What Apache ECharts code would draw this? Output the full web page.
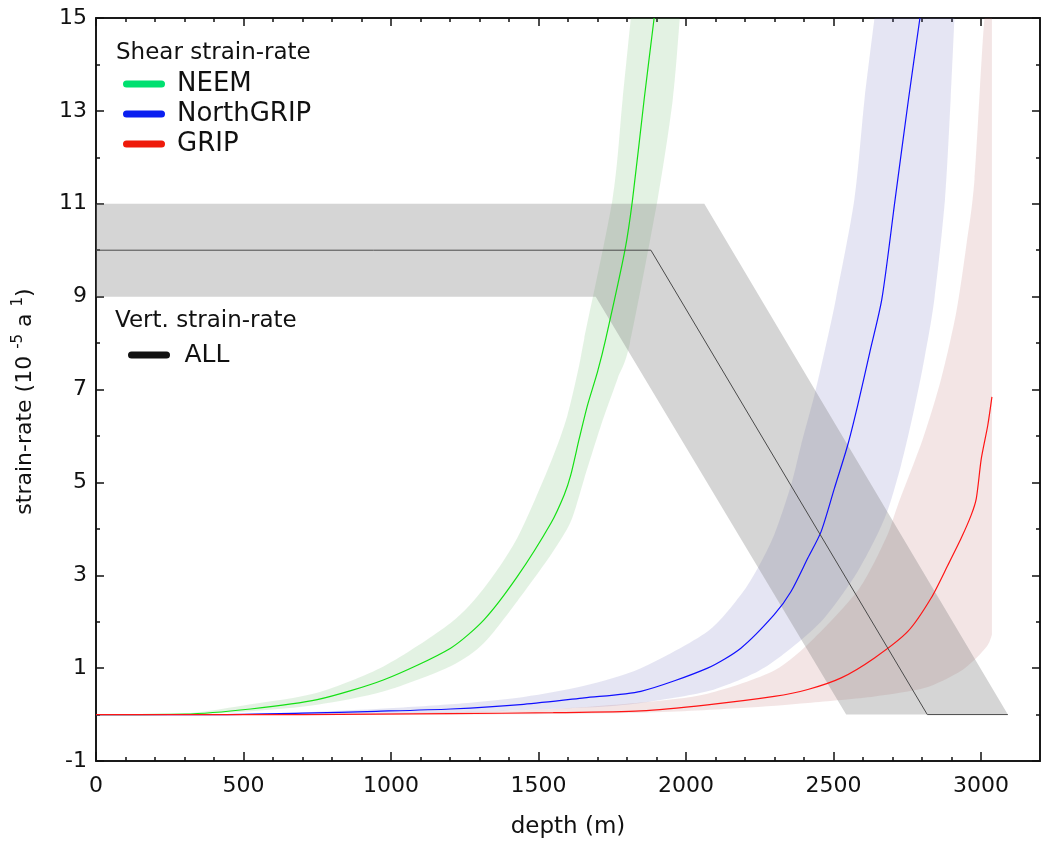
<!DOCTYPE html>
<html>
<head>
<meta charset="utf-8">
<script src="https://cdn.jsdelivr.net/npm/echarts@6/dist/echarts.min.js"></script>
<style>
html,body{margin:0;padding:0;background:#fff;}
#chart{width:1044px;height:844px;}
</style>
</head>
<body>
<div id="chart"></div>
<script>
// ---- tick values ----
const xMajor = [0, 500, 1000, 1500, 2000, 2500, 3000];
const xMinor = [100, 200, 300, 400, 600, 700, 800, 900, 1100, 1200, 1300, 1400, 1600, 1700, 1800, 1900, 2100, 2200, 2300, 2400, 2600, 2700, 2800, 2900];
const yMajor = [-1, 1, 3, 5, 7, 9, 11, 13, 15];
const yMinor = [0, 2, 4, 6, 8, 10, 12, 14];

// ---- NEEM (shear) ----
const neemX = [0, 300, 524, 750, 976, 1202, 1315, 1428, 1542, 1587, 1609, 1638, 1666, 1700, 1728, 1793, 1819, 1858, 1892];
const neemY = [0, 0.01, 0.12, 0.32, 0.75, 1.43, 2.04, 2.97, 4.12, 4.73, 5.15, 5.94, 6.66, 7.38, 8.09, 10.0, 11.1, 13.24, 15];
const neemHiX = [0, 300, 524, 750, 976, 1202, 1315, 1428, 1542, 1598, 1638, 1655, 1751, 1785, 1813];
const neemHiY = [0, 0.02, 0.22, 0.47, 1.04, 1.97, 2.72, 3.80, 5.44, 6.44, 7.52, 8.09, 11.1, 13.24, 15];
const neemLoX = [0, 300, 524, 750, 976, 1202, 1315, 1428, 1542, 1609, 1655, 1712, 1768, 1810, 1904, 1955, 1979];
const neemLoY = [0, 0, 0.07, 0.21, 0.50, 1.04, 1.54, 2.44, 3.44, 4.15, 5.08, 6.23, 7.23, 8.0, 11.1, 13.24, 15];

// ---- NorthGRIP (shear) ----
const ngripX = [0, 400, 700, 950, 1202, 1450, 1655, 1847, 2073, 2186, 2299, 2356, 2413, 2458, 2503, 2548, 2582, 2623, 2664, 2709, 2754, 2793];
const ngripY = [0, 0, 0.03, 0.07, 0.12, 0.22, 0.36, 0.50, 1.00, 1.43, 2.15, 2.65, 3.37, 3.94, 4.87, 5.80, 6.66, 7.80, 8.95, 11.1, 13.24, 15];
const ngripHiX = [0, 400, 700, 950, 1202, 1450, 1655, 1847, 2073, 2186, 2243, 2299, 2356, 2390, 2435, 2469, 2508, 2571, 2605, 2639];
const ngripHiY = [0, 0.01, 0.05, 0.12, 0.22, 0.38, 0.62, 1.00, 1.79, 2.58, 3.15, 3.87, 4.94, 5.80, 6.87, 7.80, 8.95, 11.1, 13.24, 15];
const ngripLoX = [0, 700, 1202, 1655, 1847, 2073, 2243, 2356, 2469, 2582, 2673, 2729, 2774, 2808, 2842, 2878, 2897, 2910];
const ngripLoY = [0, 0.01, 0.04, 0.15, 0.25, 0.50, 0.93, 1.43, 2.08, 3.08, 4.22, 5.37, 6.59, 7.66, 8.95, 11.1, 13.24, 15];

// ---- GRIP (shear) ----
const gripX = [0, 700, 1200, 1550, 1847, 2073, 2299, 2413, 2526, 2639, 2752, 2831, 2888, 2933, 2967, 2984, 3001, 3023, 3037];
const gripY = [0, 0, 0.02, 0.04, 0.08, 0.21, 0.39, 0.54, 0.79, 1.22, 1.79, 2.51, 3.22, 3.80, 4.30, 4.65, 5.51, 6.23, 6.84];
const gripHiX = [0, 700, 1200, 1550, 1847, 2073, 2299, 2435, 2588, 2678, 2718, 2803, 2865, 2916, 2950, 2978, 3012, 3037];
const gripHiY = [0, 0.01, 0.05, 0.12, 0.26, 0.45, 0.95, 1.65, 2.72, 3.80, 4.51, 5.94, 7.23, 8.66, 10.09, 11.52, 15, 15];
const gripLoX = [0, 1200, 1847, 2186, 2413, 2639, 2808, 2922, 2978, 3023, 3037];
const gripLoY = [0, 0, 0.04, 0.14, 0.25, 0.39, 0.57, 0.90, 1.18, 1.50, 1.72];

// ---- Vertical strain-rate (ALL) ----
const allX = [0, 1881, 2818, 3091];
const allY = [10, 10, 0, 0];
const allHiX = [0, 2062, 3091];
const allHiY = [11, 11, 0];
const allLoX = [0, 1694, 2543, 3091];
const allLoY = [9, 9, 0, 0];

const pairs = (xs, ys) => xs.map((x, i) => [x, ys[i]]);

// smooth path through screen points (Catmull-Rom -> cubic bezier)
function splinePath(pts, first) {
  let d = (first ? 'M' : 'L') + pts[0][0].toFixed(2) + ' ' + pts[0][1].toFixed(2);
  const k = 0.8 / 6;
  for (let i = 0; i < pts.length - 1; i++) {
    const p0 = pts[Math.max(i - 1, 0)], p1 = pts[i], p2 = pts[i + 1], p3 = pts[Math.min(i + 2, pts.length - 1)];
    const c1x = p1[0] + (p2[0] - p0[0]) * k, c1y = p1[1] + (p2[1] - p0[1]) * k;
    const c2x = p2[0] - (p3[0] - p1[0]) * k, c2y = p2[1] - (p3[1] - p1[1]) * k;
    d += ' C' + c1x.toFixed(2) + ' ' + c1y.toFixed(2) + ' ' + c2x.toFixed(2) + ' ' + c2y.toFixed(2) + ' ' + p2[0].toFixed(2) + ' ' + p2[1].toFixed(2);
  }
  return d;
}

function band(hx, hy, lx, ly, fill, smooth) {
  return {
    type: 'custom',
    silent: true,
    clip: true,
    data: [[hx[0], hy[0]]],
    encode: { x: 0, y: 1 },
    renderItem: function (params, api) {
      const up = hx.map((x, i) => api.coord([x, hy[i]]));
      const lo = lx.map((x, i) => api.coord([x, ly[i]])).reverse();
      if (!smooth) {
        return { type: 'polygon', shape: { points: up.concat(lo) }, style: { fill: fill } };
      }
      const d = splinePath(up, true) + ' ' + splinePath(lo, false) + ' Z';
      return { type: 'path', shape: { pathData: d }, style: { fill: fill } };
    }
  };
}

function curve(name, xs, ys, color, width, smooth) {
  return {
    name: name,
    type: 'line',
    data: pairs(xs, ys),
    showSymbol: false,
    smooth: smooth ? 0.25 : false,
    lineStyle: { color: color, width: width },
    itemStyle: { color: color },
    clip: true,
    silent: true
  };
}

const FONT = 'DejaVu Sans';
const axisCommon = { type: 'value', splitLine: { show: false } };
const lineStyleAxis = { color: '#1a1a1a', width: 2 };
const noSep = v => String(v);

const pill = 'path://M4,0 L44,0 A4,4 0 0 1 44,8 L4,8 A4,4 0 0 1 4,0 Z';

const chart = echarts.init(document.getElementById('chart'), null, { renderer: 'canvas' });
chart.setOption({
  animation: false,
  backgroundColor: '#ffffff',
  grid: { left: 96, right: 4, top: 18, bottom: 81, containLabel: false },
  title: [
    { text: 'Shear strain-rate', left: 116, top: 40, padding: 0,
      textStyle: { fontFamily: FONT, fontSize: 23, fontWeight: 'normal', color: '#111', lineHeight: 27 } },
    { text: 'Vert. strain-rate', left: 115, top: 308, padding: 0,
      textStyle: { fontFamily: FONT, fontSize: 23, fontWeight: 'normal', color: '#111', lineHeight: 27 } }
  ],
  legend: [
    { orient: 'vertical', left: 123, top: 71, padding: 0, itemGap: 4, itemWidth: 46, itemHeight: 7,
      icon: pill, selectedMode: false,
      textStyle: { fontFamily: FONT, fontSize: 26, color: '#111', lineHeight: 26, padding: [0, 0, 0, 5] },
      data: [
        { name: 'NEEM', itemStyle: { color: '#00e070', borderWidth: 0 } },
        { name: 'NorthGRIP', itemStyle: { color: '#0a1ff0', borderWidth: 0 } },
        { name: 'GRIP', itemStyle: { color: '#ee1a0a', borderWidth: 0 } }
      ] },
    { orient: 'vertical', left: 128, top: 342, padding: 0, itemWidth: 47, itemHeight: 7,
      icon: pill, selectedMode: false,
      textStyle: { fontFamily: FONT, fontSize: 25, color: '#111', lineHeight: 26, padding: [0, 0, 0, 7] },
      data: [ { name: 'ALL', itemStyle: { color: '#111111', borderWidth: 0 } } ] }
  ],
  xAxis: [
    Object.assign({}, axisCommon, { position: 'bottom', min: 0, max: 3200,
      name: 'depth (m)', nameLocation: 'middle', nameGap: 55,
      nameTextStyle: { fontFamily: FONT, fontSize: 23, color: '#111' },
      axisLine: { show: true, onZero: false, lineStyle: lineStyleAxis },
      axisTick: { show: true, inside: true, length: 9, customValues: xMajor, lineStyle: { color: '#111', width: 1.5 } },
      axisLabel: { show: true, customValues: xMajor, formatter: noSep, margin: 14, fontFamily: FONT, fontSize: 22, color: '#111' } }),
    Object.assign({}, axisCommon, { position: 'bottom', min: 0, max: 3200,
      axisLine: { show: false, onZero: false },
      axisTick: { show: true, inside: true, length: 4, customValues: xMinor, lineStyle: { color: '#111', width: 1.5 } },
      axisLabel: { show: false } }),
    Object.assign({}, axisCommon, { position: 'top', min: 0, max: 3200,
      axisLine: { show: true, onZero: false, lineStyle: lineStyleAxis },
      axisTick: { show: true, inside: true, length: 8, customValues: xMajor, lineStyle: { color: '#111', width: 1.5 } },
      axisLabel: { show: false } }),
    Object.assign({}, axisCommon, { position: 'top', min: 0, max: 3200,
      axisLine: { show: false, onZero: false },
      axisTick: { show: true, inside: true, length: 4, customValues: xMinor, lineStyle: { color: '#111', width: 1.5 } },
      axisLabel: { show: false } })
  ],
  yAxis: [
    Object.assign({}, axisCommon, { position: 'left', min: -1, max: 15,
      name: 'strain-rate (10 {s|-5} a {s|1})', nameLocation: 'middle', nameGap: 56,
      nameTextStyle: { fontFamily: FONT, fontSize: 22, color: '#111', padding: [0, 24, 0, 0],
        rich: { s: { fontFamily: FONT, fontSize: 15, color: '#111', padding: [0, 0, 14, 0] } } },
      axisLine: { show: true, onZero: false, lineStyle: lineStyleAxis },
      axisTick: { show: true, inside: true, length: 8, customValues: yMajor, lineStyle: { color: '#111', width: 1.5 } },
      axisLabel: { show: true, customValues: yMajor, formatter: noSep, margin: 9, fontFamily: FONT, fontSize: 22, color: '#111' } }),
    Object.assign({}, axisCommon, { position: 'left', min: -1, max: 15,
      axisLine: { show: false, onZero: false },
      axisTick: { show: true, inside: true, length: 4, customValues: yMinor, lineStyle: { color: '#111', width: 1.5 } },
      axisLabel: { show: false } }),
    Object.assign({}, axisCommon, { position: 'right', min: -1, max: 15,
      axisLine: { show: true, onZero: false, lineStyle: lineStyleAxis },
      axisTick: { show: true, inside: true, length: 8, customValues: yMajor, lineStyle: { color: '#111', width: 1.5 } },
      axisLabel: { show: false } }),
    Object.assign({}, axisCommon, { position: 'right', min: -1, max: 15,
      axisLine: { show: false, onZero: false },
      axisTick: { show: true, inside: true, length: 4, customValues: yMinor, lineStyle: { color: '#111', width: 1.5 } },
      axisLabel: { show: false } })
  ],
  series: [
    band(neemHiX, neemHiY, neemLoX, neemLoY, 'rgba(90,180,90,0.17)', true),
    curve('NEEM', neemX, neemY, '#14e014', 1.2, true),
    band(ngripHiX, ngripHiY, ngripLoX, ngripLoY, 'rgba(100,100,185,0.17)', true),
    curve('NorthGRIP', ngripX, ngripY, '#1010ff', 1.2, true),
    band(gripHiX, gripHiY, gripLoX, gripLoY, 'rgba(185,100,100,0.17)', true),
    curve('GRIP', gripX, gripY, '#ff1414', 1.2, true),
    band(allHiX, allHiY, allLoX, allLoY, 'rgba(128,128,128,0.33)', false),
    curve('ALL', allX, allY, '#4a4a4a', 1, false)
  ]
});
</script>
</body>
</html>
